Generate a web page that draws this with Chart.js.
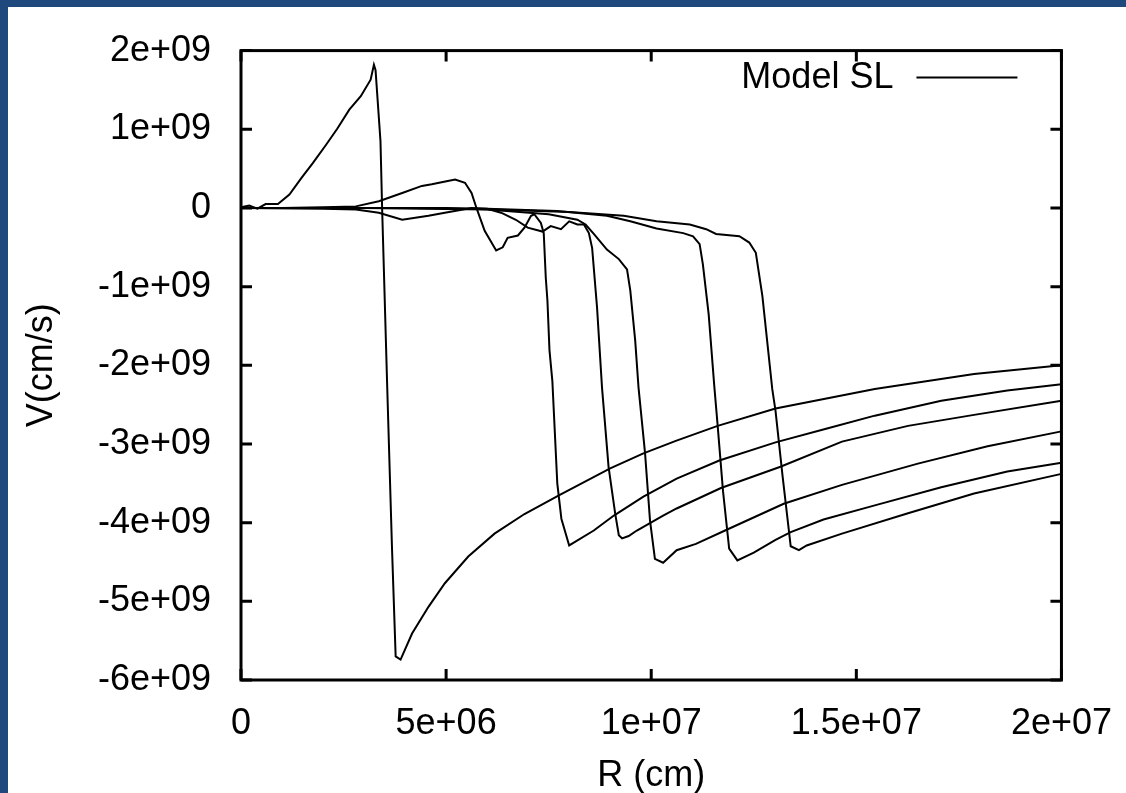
<!DOCTYPE html>
<html>
<head>
<meta charset="utf-8">
<title>Model SL velocity profiles</title>
<script src="https://cdn.jsdelivr.net/npm/chart.js@4.4.1/dist/chart.umd.min.js"></script>
<style>
  html, body { margin: 0; padding: 0; background: #1f497d; }
  #frame {
    position: absolute;
    left: 8px;
    top: 7px;
    width: 1118px;
    height: 786px;
    background: #fff;
  }
</style>
</head>
<body>
<div id="frame"><canvas id="profile-chart"></canvas></div>
<script>
// radius in units of 1e6 cm, velocity in units of 1e9 cm/s
const rUnit = 1e6
const vUnit = 1e9

const snap1R = [0, 0.2, 0.4, 0.6, 0.9, 1.18, 1.47, 1.75, 2.07, 2.35, 2.64, 2.92, 3.16, 3.24, 3.28, 3.40, 3.44, 3.56, 3.68, 3.77, 3.89, 4.17, 4.57, 4.97, 5.54, 6.18, 6.91, 7.76, 9.0, 9.81, 10.6, 11.62, 13.03, 15.45, 17.87, 20.0]
const snap1V = [0.01, 0.03, -0.01, 0.05, 0.05, 0.17, 0.38, 0.57, 0.80, 1.01, 1.25, 1.42, 1.63, 1.82, 1.75, 0.85, 0.0, -2.2, -4.31, -5.70, -5.74, -5.41, -5.07, -4.77, -4.43, -4.14, -3.89, -3.65, -3.31, -3.12, -2.96, -2.77, -2.55, -2.30, -2.11, -2.00]

const snap2R = [0, 1.0, 2.0, 2.8, 3.36, 3.93, 4.41, 4.65, 5.01, 5.22, 5.46, 5.62, 5.74, 5.94, 6.22, 6.38, 6.5, 6.75, 6.91, 7.07, 7.15, 7.31, 7.38, 7.43, 7.47, 7.52, 7.59, 7.71, 7.81, 8.0, 8.6, 9.09, 9.81, 10.62, 11.66, 13.03, 14.24, 15.45, 17.07, 18.68, 20.0]
const snap2V = [0, 0, 0.01, 0.02, 0.085, 0.19, 0.28, 0.30, 0.34, 0.36, 0.32, 0.19, 0.0, -0.29, -0.54, -0.50, -0.38, -0.35, -0.25, -0.10, -0.08, -0.19, -0.32, -0.89, -1.18, -1.81, -2.2, -3.5, -3.95, -4.29, -4.1, -3.91, -3.67, -3.44, -3.21, -2.98, -2.81, -2.64, -2.45, -2.32, -2.24]

const snap3R = [0, 2.0, 2.8, 3.36, 3.93, 4.57, 4.97, 5.62, 6.0, 6.34, 6.7, 6.99, 7.35, 7.55, 7.8, 8.0, 8.2, 8.36, 8.48, 8.56, 8.68, 8.8, 8.96, 9.12, 9.21, 9.29, 9.45, 9.65, 10.29, 10.62, 11.7, 13.15, 14.65, 16.26, 17.87, 20.0]
const snap3V = [0, -0.01, -0.02, -0.06, -0.15, -0.10, -0.06, 0.0, -0.01, -0.06, -0.15, -0.25, -0.30, -0.23, -0.27, -0.17, -0.21, -0.21, -0.32, -0.51, -1.27, -2.28, -3.29, -3.88, -4.16, -4.2, -4.17, -4.1, -3.91, -3.82, -3.56, -3.29, -2.97, -2.77, -2.63, -2.45]

const snap4R = [0, 3.0, 6.0, 7.5, 8.2, 8.4, 8.6, 8.92, 9.21, 9.41, 9.49, 9.61, 9.69, 9.85, 9.97, 10.09, 10.29, 10.62, 11.09, 11.8, 13.23, 14.65, 16.5, 18.2, 20.0]
const snap4V = [0, 0, -0.02, -0.08, -0.15, -0.21, -0.33, -0.53, -0.65, -0.78, -1.05, -1.69, -2.28, -3.12, -3.97, -4.46, -4.51, -4.35, -4.27, -4.10, -3.76, -3.52, -3.25, -3.03, -2.84]

const snap5R = [0, 4.0, 6.0, 7.71, 8.92, 9.49, 10.13, 10.78, 11.02, 11.18, 11.26, 11.4, 11.54, 11.62, 11.75, 11.9, 12.1, 12.5, 13.03, 13.4, 14.2, 15.45, 17.07, 18.68, 20.0]
const snap5V = [0, 0, -0.01, -0.04, -0.10, -0.17, -0.26, -0.32, -0.36, -0.46, -0.72, -1.35, -2.28, -2.77, -3.6, -4.33, -4.48, -4.38, -4.22, -4.12, -3.96, -3.78, -3.55, -3.35, -3.24]

const snap6R = [0, 5.0, 8.0, 9.33, 10.13, 10.94, 11.34, 11.58, 12.15, 12.39, 12.55, 12.71, 12.95, 13.03, 13.2, 13.4, 13.6, 13.79, 14.65, 16.26, 17.87, 20.0]
const snap6V = [0, 0, -0.05, -0.10, -0.17, -0.21, -0.27, -0.33, -0.36, -0.44, -0.57, -1.12, -2.3, -2.58, -3.4, -4.30, -4.35, -4.29, -4.14, -3.88, -3.63, -3.38]

const seriesLabel = 'Model SL'
const snapshots = [
  [snap1R, snap1V],
  [snap2R, snap2V],
  [snap3R, snap3V],
  [snap4R, snap4V],
  [snap5R, snap5V],
  [snap6R, snap6V]
]

const xTickValues = [0, 5e6, 1e7, 1.5e7, 2e7]
const xTickLabels = ['0', '5e+06', '1e+07', '1.5e+07', '2e+07']
const yTickValues = [-6e9, -5e9, -4e9, -3e9, -2e9, -1e9, 0, 1e9, 2e9]
const yTickLabels = ['-6e+09', '-5e+09', '-4e+09', '-3e+09', '-2e+09', '-1e+09', '0', '1e+09', '2e+09']

const FONT = '"Liberation Sans", Arial, sans-serif'

// gnuplot style box: frame plus inward ticks on all four sides, and the key
const gnuplotFrame = {
  id: 'gnuplotFrame',
  afterDatasetsDraw (chart) {
    const { ctx, chartArea: area, scales } = chart
    const tickLen = 11
    ctx.save()
    ctx.strokeStyle = '#000'
    ctx.lineWidth = 3
    ctx.beginPath()
    for (const t of scales.x.ticks) {
      const px = scales.x.getPixelForValue(t.value)
      ctx.moveTo(px, area.bottom)
      ctx.lineTo(px, area.bottom - tickLen)
      ctx.moveTo(px, area.top)
      ctx.lineTo(px, area.top + tickLen)
    }
    for (const t of scales.y.ticks) {
      const py = scales.y.getPixelForValue(t.value)
      ctx.moveTo(area.left, py)
      ctx.lineTo(area.left + tickLen, py)
      ctx.moveTo(area.right, py)
      ctx.lineTo(area.right - tickLen, py)
    }
    ctx.stroke()
    ctx.strokeRect(area.left, area.top, area.right - area.left, area.bottom - area.top)

    // key: text then line sample, top right inside the box
    const ds = chart.data.datasets[0]
    const keyY = area.top + 27
    const lineEnd = area.right - 44
    const lineStart = lineEnd - 101
    ctx.font = '36px ' + FONT
    ctx.fillStyle = '#000'
    ctx.textAlign = 'right'
    ctx.textBaseline = 'middle'
    ctx.fillText(ds.label, lineStart - 23, keyY)
    ctx.lineWidth = ds.borderWidth
    ctx.strokeStyle = ds.borderColor
    ctx.beginPath()
    ctx.moveTo(lineStart, keyY)
    ctx.lineTo(lineEnd, keyY)
    ctx.stroke()
    ctx.restore()
  }
}

const datasets = snapshots.map(([r, v]) => ({
  label: seriesLabel,
  data: r.map((x, i) => ({ x: x * rUnit, y: v[i] * vUnit })),
  borderColor: '#000',
  borderWidth: 2,
  pointRadius: 0,
  tension: 0,
  fill: false
}))

new Chart(document.getElementById('profile-chart'), {
  type: 'line',
  data: { datasets },
  plugins: [gnuplotFrame],
  options: {
    parsing: true,
    responsive: true,
    maintainAspectRatio: false,
    animation: false,
    layout: {
      padding: { left: 0, top: 42, right: 58, bottom: 0 }
    },
    scales: {
      x: {
        type: 'linear',
        min: 0,
        max: 2e7,
        grid: { display: false },
        border: { display: false },
        afterFit (scale) { scale.height = 113 },
        afterBuildTicks (scale) { scale.ticks = xTickValues.map(v => ({ value: v })) },
        ticks: {
          autoSkip: false,
          maxRotation: 0,
          padding: 14,
          color: '#000',
          font: { family: FONT, size: 36 },
          callback: (value, index) => xTickLabels[index]
        },
        title: {
          display: true,
          text: 'R (cm)',
          color: '#000',
          padding: { top: 0, bottom: 0 },
          font: { family: FONT, size: 36, lineHeight: 0.95 }
        }
      },
      y: {
        type: 'linear',
        min: -6e9,
        max: 2e9,
        grid: { display: false },
        border: { display: false },
        afterFit (scale) { scale.width = 233 },
        afterBuildTicks (scale) { scale.ticks = yTickValues.map(v => ({ value: v })) },
        ticks: {
          autoSkip: false,
          padding: 22,
          color: '#000',
          font: { family: FONT, size: 36 },
          callback: (value, index) => yTickLabels[index]
        },
        title: {
          display: true,
          text: 'V(cm/s)',
          color: '#000',
          padding: { top: 12, bottom: 0 },
          font: { family: FONT, size: 36 }
        }
      }
    },
    plugins: {
      legend: { display: false },
      tooltip: { enabled: false }
    }
  }
})
</script>
</body>
</html>
